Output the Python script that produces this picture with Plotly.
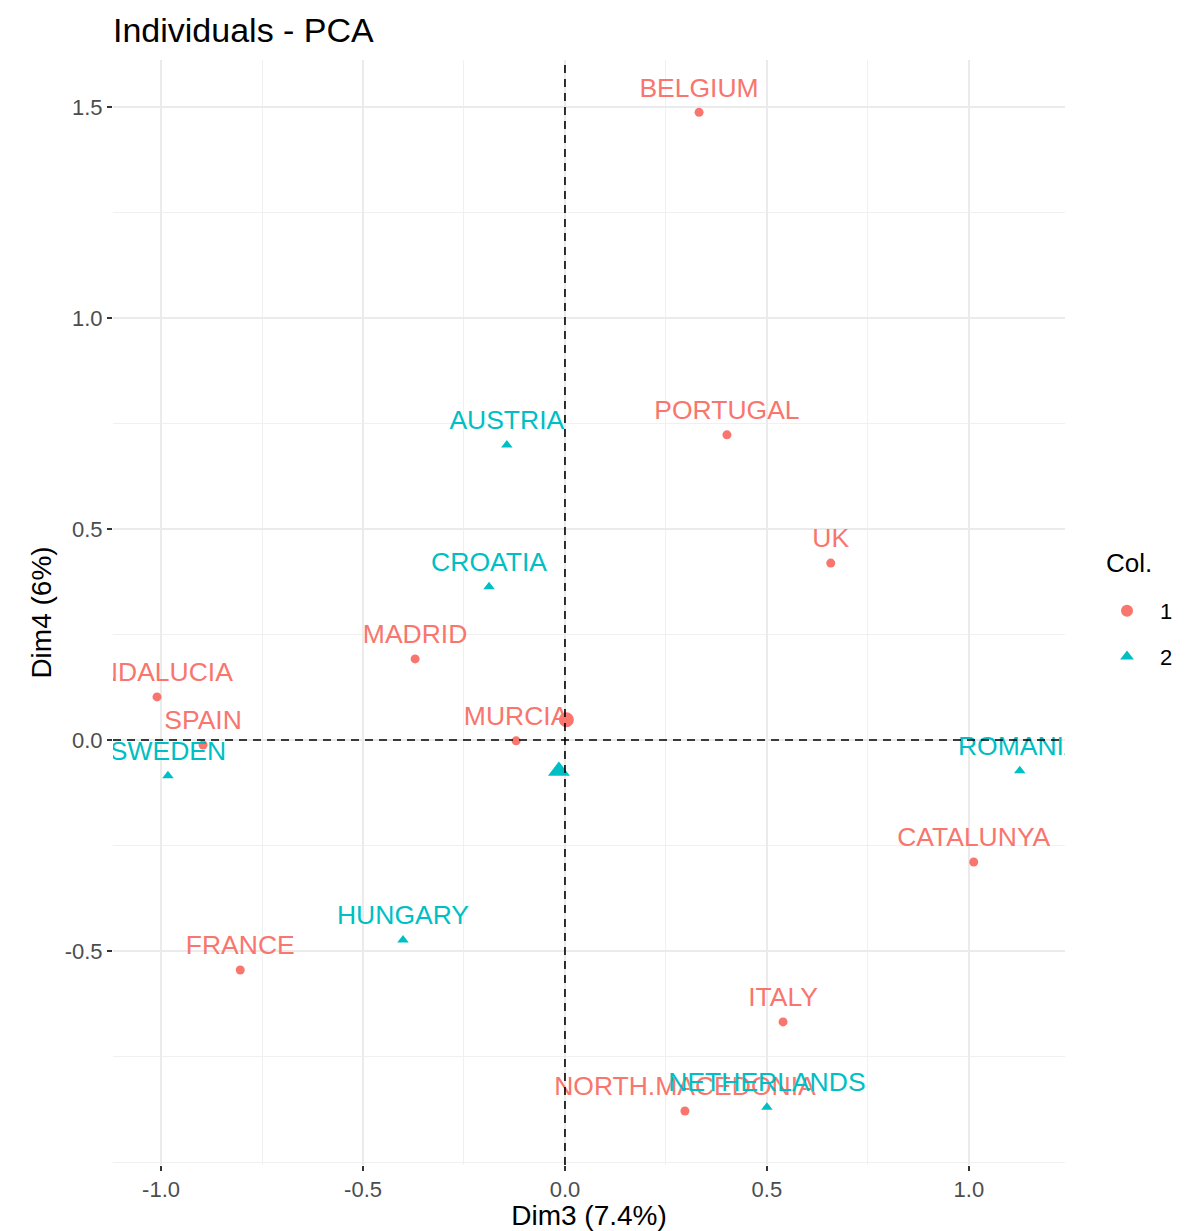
import numpy as np
import plotly.graph_objects as go

# ---- data ----
names_g1 = ["BELGIUM", "PORTUGAL", "UK", "MADRID", "ANDALUCIA", "SPAIN", "MURCIA",
            "CATALUNYA", "FRANCE", "ITALY", "NORTH.MACEDONIA"]
dim3_g1 = [0.332, 0.401, 0.658, -0.371, -1.010, -0.896, -0.121, 1.012, -0.804, 0.540, 0.297]
dim4_g1 = [1.487, 0.723, 0.419, 0.192, 0.102, -0.012, -0.002, -0.289, -0.545, -0.668, -0.879]

names_g2 = ["AUSTRIA", "CROATIA", "SWEDEN", "ROMANIA", "HUNGARY", "NETHERLANDS"]
dim3_g2 = [-0.144, -0.188, -0.983, 1.126, -0.401, 0.500]
dim4_g2 = [0.699, 0.363, -0.085, -0.073, -0.474, -0.870]

group_names = ["1", "2"]
x_tickvals = [-1.0, -0.5, 0.0, 0.5, 1.0]
x_ticktext = ["-1.0", "-0.5", "0.0", "0.5", "1.0"]
y_tickvals = [-0.5, 0.0, 0.5, 1.0, 1.5]
y_ticktext = ["-0.5", "0.0", "0.5", "1.0", "1.5"]

title_text = "Individuals - PCA"
x_title = "Dim3 (7.4%)"
y_title = "Dim4 (6%)"
legend_title = "Col."

# ---- style ----
RED = "#F8766D"
CYAN = "#00BFC4"
FONT = "Liberation Sans, Arial, sans-serif"
OFF = 8  # page body margin
W, H = 1190 - OFF, 1231 - OFF
ML, MR, MT, MB = 113 - OFF, 125, 60 - OFF, 66
pw = W - ML - MR
ph = H - MT - MB


def px_x(px):  # absolute screenshot x -> paper x
    return (px - OFF - ML) / pw


def px_y(py):  # absolute screenshot y -> paper y
    return (H - MB - (py - OFF)) / ph


fig = go.Figure()

# points
fig.add_trace(go.Scatter(x=dim3_g1, y=dim4_g1, mode="markers", name=group_names[0],
                         legendgroup="g1",
                         marker=dict(symbol="circle", size=9, color=RED)))
fig.add_trace(go.Scatter(x=dim3_g2, y=dim4_g2, mode="markers", name=group_names[1],
                         legendgroup="g2",
                         marker=dict(symbol="triangle-up", size=10, color=CYAN)))

# labels (text placed above the point, clipped to the panel)
for xs, ys, ns, col in [(dim3_g1, dim4_g1, names_g1, RED), (dim3_g2, dim4_g2, names_g2, CYAN)]:
    fig.add_trace(go.Scatter(x=xs, y=ys, text=ns, mode="markers+text",
                             textposition="top center",
                             marker=dict(size=13, color="rgba(0,0,0,0)"),
                             textfont=dict(family=FONT, size=26.5, color=col),
                             cliponaxis=True, hoverinfo="skip", showlegend=False))

# group mean points
fig.add_trace(go.Scatter(x=[float(np.mean(dim3_g1))], y=[float(np.mean(dim4_g1))], mode="markers",
                         marker=dict(symbol="circle", size=15, color=RED),
                         showlegend=False, hoverinfo="skip"))
fig.add_trace(go.Scatter(x=[float(np.mean(dim3_g2))], y=[float(np.mean(dim4_g2))], mode="markers",
                         marker=dict(symbol="triangle-up", size=19, color=CYAN),
                         showlegend=False, hoverinfo="skip"))

# dashed reference lines
fig.add_shape(type="line", xref="x", yref="paper", x0=0, x1=0, y0=0, y1=1,
              line=dict(color="black", width=1.6, dash="8px,6px"), layer="above")
fig.add_shape(type="line", xref="paper", yref="y", x0=0, x1=1, y0=0, y1=0,
              line=dict(color="black", width=1.6, dash="8px,6px"), layer="above")

# legend title as free text
fig.add_annotation(text=legend_title, xref="paper", yref="paper",
                   x=px_x(1104), y=px_y(563),
                   xanchor="left", yanchor="middle", showarrow=False,
                   font=dict(family=FONT, size=26, color="black"))

axis_common = dict(
    showline=False, zeroline=False, automargin=False,
    gridcolor="#EBEBEB", gridwidth=1.5,
    ticks="outside", ticklen=5, tickwidth=1.5, tickcolor="#333333",
    tickfont=dict(family=FONT, size=22, color="#4D4D4D"),
)

fig.update_layout(
    width=W, height=H,
    margin=dict(l=ML, r=MR, t=MT, b=MB, autoexpand=False),
    paper_bgcolor="white", plot_bgcolor="white",
    font=dict(family=FONT),
    title=dict(text=title_text, x=0, xref="paper", xanchor="left",
               y=1 - 22 / H, yref="container", yanchor="middle",
               font=dict(family=FONT, size=34, color="black")),
    xaxis=dict(range=[-1.119, 1.238], tickvals=x_tickvals, ticktext=x_ticktext,
               title=dict(text=x_title, font=dict(family=FONT, size=28, color="black"), standoff=9),
               minor=dict(dtick=0.25, tick0=0, gridcolor="#F0F0F0", gridwidth=1, ticks=""),
               **axis_common),
    yaxis=dict(range=[-1.007, 1.611], tickvals=y_tickvals, ticktext=y_ticktext,
               title=dict(text=y_title, font=dict(family=FONT, size=28, color="black"), standoff=4),
               minor=dict(dtick=0.25, tick0=0, gridcolor="#F0F0F0", gridwidth=1, ticks=""),
               **axis_common),
    legend=dict(font=dict(family=FONT, size=22, color="black"),
                x=px_x(1094), xanchor="left", y=px_y(590), yanchor="top",
                itemsizing="constant", itemwidth=56, tracegroupgap=14,
                bgcolor="rgba(0,0,0,0)"),
    showlegend=True,
)

fig.write_html("out.html")
